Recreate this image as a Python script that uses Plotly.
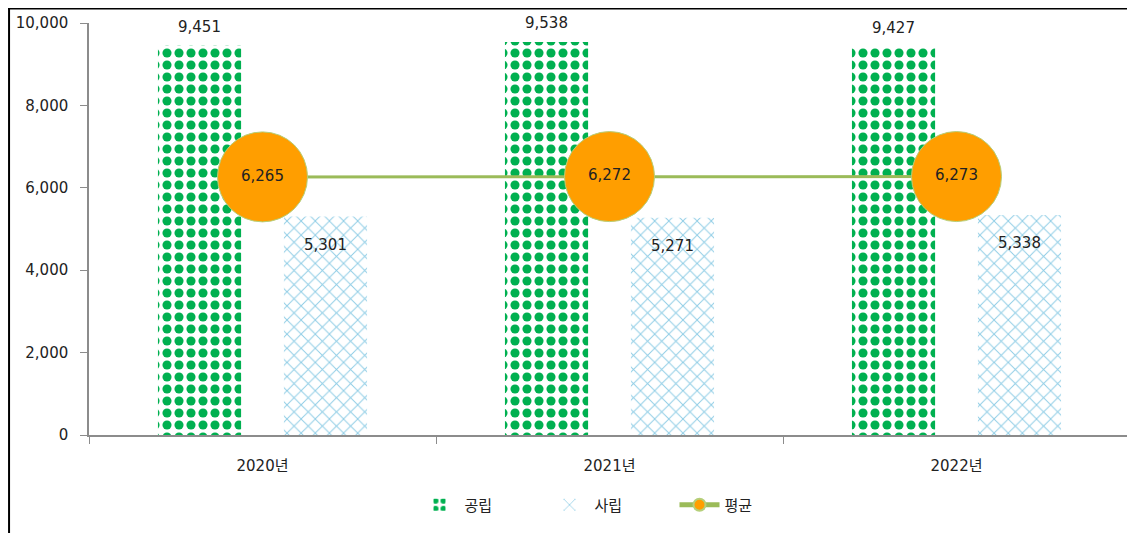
import plotly.graph_objects as go

categories = ["2020년", "2021년", "2022년"]
public_vals = [9451, 9538, 9427]
private_vals = [5301, 5271, 5338]
avg_vals = [6265, 6272, 6273]
series_names = ["공립", "사립", "평균"]
y_ticks = [0, 2000, 4000, 6000, 8000, 10000]

FONT = "DejaVu Sans, Noto Sans CJK KR, sans-serif"

fig = go.Figure()
fig.add_trace(go.Bar(
    x=categories, y=public_vals, name=series_names[0],
    marker=dict(color="white", line=dict(width=0),
                pattern=dict(shape=".", fgcolor="#00B050", bgcolor="white",
                             size=12, solidity=0.45, fillmode="replace")),
))
fig.add_trace(go.Bar(
    x=categories, y=private_vals, name=series_names[1],
    marker=dict(color="white", line=dict(width=0),
                pattern=dict(shape="x", fgcolor="#8ECDE6", bgcolor="white",
                             size=10, solidity=0.18, fillmode="replace")),
))
fig.add_trace(go.Scatter(
    x=categories, y=avg_vals, name=series_names[2],
    mode="lines+markers+text",
    line=dict(color="#9BBB59", width=3),
    marker=dict(size=90, color="#FF9E00", line=dict(color="#B5CF7A", width=1)),
    text=[f"{v:,}" for v in avg_vals], textposition="middle center",
    textfont=dict(family=FONT, size=15, color="#222222"),
))

annotations = []
for c, v in zip(categories, public_vals):
    annotations.append(dict(x=c, y=v, text=f"{v:,}", showarrow=False,
                            xshift=-63, yshift=19,
                            font=dict(family=FONT, size=15, color="#222222")))
for c, v in zip(categories, private_vals):
    annotations.append(dict(x=c, y=v, text=f"{v:,}", showarrow=False,
                            xshift=63, yshift=-28,
                            font=dict(family=FONT, size=15, color="#222222")))

# page body has an 8px margin, so the figure is offset by 8px
fig.update_layout(
    width=1127, height=525,
    margin=dict(l=81, r=5, t=15, b=98),
    paper_bgcolor="white", plot_bgcolor="white",
    barmode="group", bargap=0.274, bargroupgap=0.34,
    font=dict(family=FONT, size=15, color="#222222"),
    showlegend=True,
    legend=dict(orientation="h", x=0.5, xanchor="center", y=-0.13, yanchor="top",
                itemsizing="constant", font=dict(family=FONT, size=15),
                traceorder="normal", itemwidth=40, entrywidth=75),
    annotations=annotations,
    shapes=[
        dict(type="line", xref="paper", yref="paper", x0=-0.078, x1=1.01,
             y0=1.035, y1=1.035, line=dict(color="black", width=2)),
        dict(type="line", xref="paper", yref="paper", x0=-0.0768, x1=-0.0768,
             y0=1.04, y1=-0.25, line=dict(color="black", width=2)),
    ],
)
fig.update_xaxes(showline=True, linecolor="#8C8C8C", linewidth=1.5,
                 ticks="outside", tickson="boundaries", ticklen=7, tickcolor="#8C8C8C",
                 showgrid=False, ticklabelstandoff=16,
                 tickfont=dict(family=FONT, size=15, color="#222222"))
fig.update_yaxes(range=[0, 10000], tickvals=y_ticks, tickformat=",",
                 showline=True, linecolor="#8C8C8C", linewidth=1.5,
                 ticks="outside", ticklen=7, tickcolor="#8C8C8C",
                 showgrid=False, zeroline=False, ticklabelstandoff=9,
                 tickfont=dict(family=FONT, size=15, color="#222222"))

fig.write_html("out.html")
